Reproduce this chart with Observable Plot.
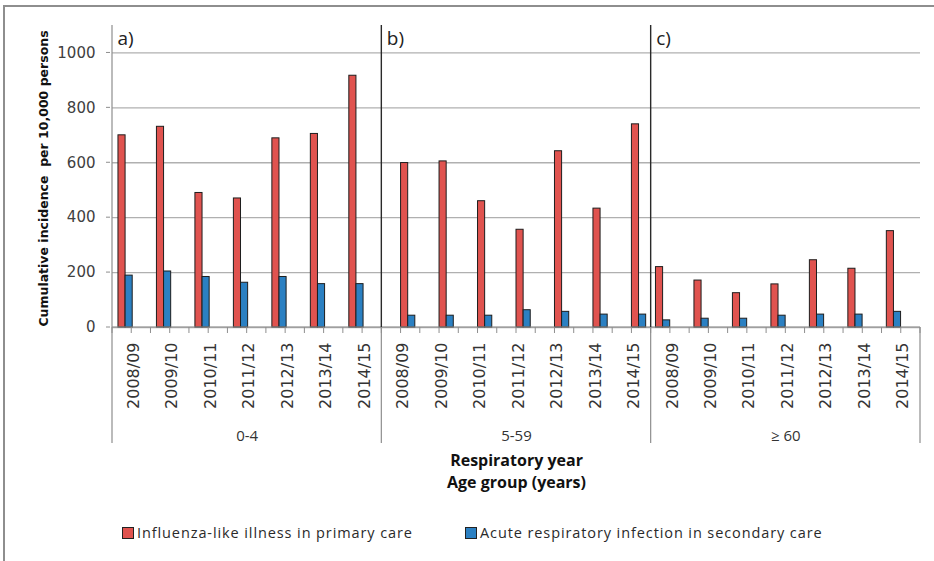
<!DOCTYPE html>
<html>
<head>
<meta charset="utf-8">
<script src="https://cdn.jsdelivr.net/npm/d3@7"></script>
<script src="https://cdn.jsdelivr.net/npm/@observablehq/plot@0.6"></script>
<style>
  body { margin: 0; background: #fff; }
  #wrap { position: relative; width: 934px; height: 561px; overflow: hidden; background: #fff; }
  #chart { position: absolute; left: 0; top: 0; }
  #frame { position: absolute; left: 3px; top: 5px; width: 1000px; height: 700px;
           border-left: 2px solid #8e8e8e; border-top: 2px solid #8e8e8e; }
  .lg { position: absolute; top: 523px; height: 20px; font-family: "Open Sans", sans-serif; font-size: 14.5px;
        letter-spacing: 0.9px; color: #2a2a2a; white-space: nowrap; line-height: 20px; }
  .sw { display: inline-block; width: 10px; height: 10px; border: 1px solid #222; vertical-align: -1px; margin-right: 3px; }
</style>
</head>
<body>
<div id="wrap">
  <div id="chart"></div>
  <div id="frame"></div>
  <div id="legend"></div>
</div>
<script>
// ---- data ----
const ageGroups = ["0-4", "5-59", "\u2265 60"];
const panelLabels = ["a)", "b)", "c)"];
const years = ["2008/09", "2009/10", "2010/11", "2011/12", "2012/13", "2013/14", "2014/15"];
const seriesNames = ["Influenza-like illness in primary care", "Acute respiratory infection in secondary care"];
const seriesColors = ["#e0534f", "#2b80c2"];
const yTicks = [0, 200, 400, 600, 800, 1000];

// Influenza-like illness in primary care, by age group
const ili_0_4  = [700, 731, 490, 470, 689, 705, 917];
const ili_5_59 = [599, 605, 460, 356, 642, 433, 740];
const ili_60   = [220, 171, 125, 157, 245, 214, 351];
// Acute respiratory infection in secondary care, by age group
const ari_0_4  = [189, 204, 184, 163, 184, 158, 158];
const ari_5_59 = [43, 43, 43, 63, 57, 47, 47];
const ari_60   = [26, 32, 32, 43, 47, 47, 57];

const yTitle = "Cumulative incidence  per 10,000 persons";
const xTitle1 = "Respiratory year";
const xTitle2 = "Age group (years)";

// ---- build table ----
const iliByGroup = [ili_0_4, ili_5_59, ili_60];
const ariByGroup = [ari_0_4, ari_5_59, ari_60];
const rows = [];
const cats = [];
ageGroups.forEach((g, gi) => {
  years.forEach((yr, yi) => {
    const slot = gi * years.length + yi;
    cats.push({gi, slot, year: yr});
    rows.push({gi, slot, k: 0, series: seriesNames[0], value: iliByGroup[gi][yi]});
    rows.push({gi, slot, k: 1, series: seriesNames[1], value: ariByGroup[gi][yi]});
  });
});
const nCats = cats.length;
const groups = ageGroups.map((g, gi) => ({gi, label: g, start: gi * years.length, mid: gi * years.length + years.length / 2}));

// bar placement within each category (style)
const barOffset = [0.155, 0.5, 0.125];
const barW = 0.185;

const plot = Plot.plot({
  width: 934,
  height: 500,
  marginLeft: 112,
  marginRight: 14,
  marginTop: 25,
  marginBottom: 173,
  style: {background: "none", color: "#404040", fontFamily: "DejaVu Sans"},
  x: {type: "linear", domain: [0, nCats], axis: null},
  y: {type: "linear", domain: [0, 1100], axis: null},
  color: {domain: seriesNames, range: seriesColors},
  marks: [
    Plot.ruleY(yTicks, {stroke: "#b0b0b0", strokeWidth: 1.3}),
    Plot.rectY(rows, {
      x1: d => d.slot + barOffset[d.gi] + d.k * barW,
      x2: d => d.slot + barOffset[d.gi] + (d.k + 1) * barW,
      y1: 0, y2: "value",
      fill: "series", stroke: "#1e1e1e", strokeWidth: 1
    }),
    // y tick labels
    Plot.text(yTicks, {x: 0, y: d => d, text: d => String(d), textAnchor: "end", dx: -17,
      fontSize: 15, fill: "#404040", fontFamily: "DejaVu Sans"}),
    // category labels
    Plot.text(cats, {x: d => d.slot + 0.5, y: 0, text: "year", rotate: -90, textAnchor: "end",
      dy: 15, dx: 2, fontSize: 16, fill: "#333", fontFamily: "DejaVu Sans"}),
    // group labels
    Plot.text(groups, {x: "mid", y: 0, text: "label", dy: 109, fontSize: 15, fill: "#333", fontFamily: "Open Sans"}),
    // panel labels
    Plot.text(groups, {x: "start", y: 1100, text: d => panelLabels[d.gi], textAnchor: "start", dx: 5, dy: 13,
      fontSize: 19, fill: "#222", fontFamily: "Open Sans"}),
    // axis titles
    Plot.text([yTitle], {frameAnchor: "left", textAnchor: "middle", lineAnchor: "middle", rotate: -90, dx: -69, dy: 2,
      fontSize: 12.5, fontWeight: "bold", fill: "#111", fontFamily: "DejaVu Sans"}),
    Plot.text([xTitle1], {frameAnchor: "bottom", lineAnchor: "middle", dy: 133, fontSize: 16, fontWeight: "bold",
      fill: "#111", fontFamily: "Open Sans"}),
    Plot.text([xTitle2], {frameAnchor: "bottom", lineAnchor: "middle", dy: 155, fontSize: 16, fontWeight: "bold",
      fill: "#111", fontFamily: "Open Sans"})
  ]
});

document.getElementById("chart").appendChild(plot);

// ---- axis lines and ticks, through the plot's own scales ----
const xs = plot.scale("x"), ys = plot.scale("y");
const X = d3.scaleLinear(xs.domain, xs.range);
const Y = d3.scaleLinear(ys.domain, ys.range);
const svg = d3.select(plot);
const g = svg.append("g").attr("fill", "none");
const y0 = Y(0), yTop = Y(1100), yBot = Y(0) + 116;
const gray = "#8e8e8e";
// x-axis baseline
g.append("line").attr("x1", X(0)).attr("x2", X(nCats)).attr("y1", y0).attr("y2", y0).attr("stroke", gray).attr("stroke-width", 1.2);
// half-category ticks
d3.range(0, nCats * 2 + 1).forEach(h => {
  g.append("line").attr("x1", X(h / 2)).attr("x2", X(h / 2)).attr("y1", y0).attr("y2", y0 + 6).attr("stroke", gray);
});
// y ticks
yTicks.forEach(v => {
  g.append("line").attr("x1", X(0) - 6).attr("x2", X(0) - 2).attr("y1", Y(v)).attr("y2", Y(v)).attr("stroke", gray);
});
// left axis line
g.append("line").attr("x1", X(0)).attr("x2", X(0)).attr("y1", yTop).attr("y2", yBot).attr("stroke", gray).attr("stroke-width", 1.2);
// group dividers
groups.slice(1).forEach(gr => {
  g.append("line").attr("x1", X(gr.start)).attr("x2", X(gr.start)).attr("y1", yTop).attr("y2", y0).attr("stroke", "#2a2a2a").attr("stroke-width", 1.4);
  g.append("line").attr("x1", X(gr.start)).attr("x2", X(gr.start)).attr("y1", y0).attr("y2", yBot).attr("stroke", gray).attr("stroke-width", 1.2);
});
// right edge of category axis
g.append("line").attr("x1", X(nCats)).attr("x2", X(nCats)).attr("y1", y0).attr("y2", yBot).attr("stroke", gray).attr("stroke-width", 1.2);

// ---- legend ----
const lg = document.getElementById("legend");
const lgLeft = [122, 465];
seriesNames.forEach((s, i) => {
  const d = document.createElement("div");
  d.className = "lg";
  d.style.left = lgLeft[i] + "px";
  d.innerHTML = `<span class="sw" style="background:${seriesColors[i]}"></span>${s}`;
  lg.appendChild(d);
});
</script>
</body>
</html>
